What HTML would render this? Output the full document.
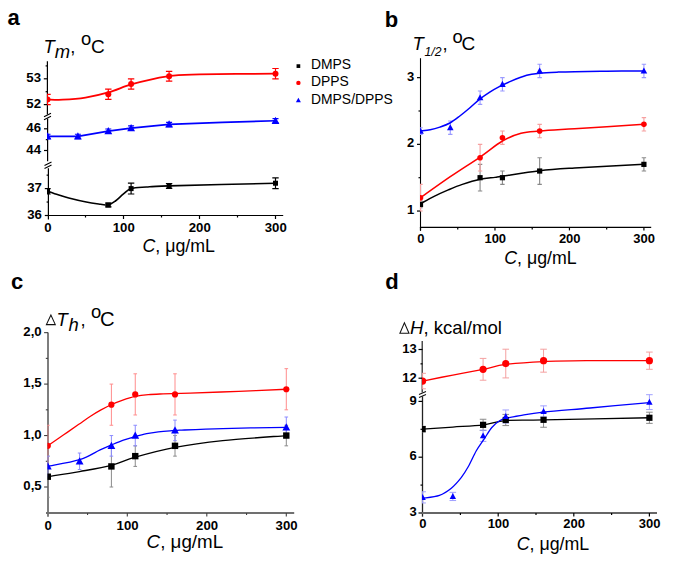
<!DOCTYPE html>
<html><head><meta charset="utf-8"><title>Figure</title>
<style>
html,body{margin:0;padding:0;background:#fff;}
body{width:685px;height:567px;overflow:hidden;}
svg{display:block;font-family:"Liberation Sans", sans-serif;}
</style></head>
<body>
<svg width="685" height="567" viewBox="0 0 685 567">
<rect width="685" height="567" fill="#fff"/>
<clipPath id="ca"><rect x="47" y="55" width="240" height="160"/></clipPath>
<line x1="47.4" y1="61.2" x2="47.4" y2="114.4" stroke="#000000" stroke-width="1.2"/>
<line x1="47.6" y1="118.6" x2="47.6" y2="161.3" stroke="#000000" stroke-width="1.2"/>
<line x1="48.4" y1="168.3" x2="48.4" y2="219.4" stroke="#000000" stroke-width="1.2"/>
<path d="M44 116.8 L51 113.3 M44 119.8 L51 116.3" stroke="#000" stroke-width="1.1"/>
<path d="M44.5 165.4 L51.5 161.9 M44.5 168.4 L51.5 164.9" stroke="#000" stroke-width="1.1"/>
<line x1="43.8" y1="104.6" x2="47.4" y2="104.6" stroke="#000000" stroke-width="1.2"/>
<line x1="43.8" y1="78.8" x2="47.4" y2="78.8" stroke="#000000" stroke-width="1.2"/>
<line x1="45.6" y1="91.7" x2="47.4" y2="91.7" stroke="#000000" stroke-width="1.2"/>
<line x1="45.6" y1="65.9" x2="47.4" y2="65.9" stroke="#000000" stroke-width="1.2"/>
<line x1="44" y1="150.5" x2="47.6" y2="150.5" stroke="#000000" stroke-width="1.2"/>
<line x1="44" y1="128.8" x2="47.6" y2="128.8" stroke="#000000" stroke-width="1.2"/>
<line x1="45.8" y1="139.65" x2="47.6" y2="139.65" stroke="#000000" stroke-width="1.2"/>
<line x1="44.8" y1="215.5" x2="48.5" y2="215.5" stroke="#000000" stroke-width="1.2"/>
<line x1="44.8" y1="188.6" x2="48.5" y2="188.6" stroke="#000000" stroke-width="1.2"/>
<line x1="46.6" y1="202.05" x2="48.5" y2="202.05" stroke="#000000" stroke-width="1.2"/>
<line x1="46.6" y1="175.15" x2="48.5" y2="175.15" stroke="#000000" stroke-width="1.2"/>
<line x1="48" y1="215.5" x2="283.2" y2="215.5" stroke="#000000" stroke-width="1.2"/>
<line x1="123.5" y1="215.5" x2="123.5" y2="219" stroke="#000000" stroke-width="1.2"/>
<line x1="199.5" y1="215.5" x2="199.5" y2="219" stroke="#000000" stroke-width="1.2"/>
<line x1="275.5" y1="215.5" x2="275.5" y2="219" stroke="#000000" stroke-width="1.2"/>
<line x1="85.5" y1="215.5" x2="85.5" y2="217.5" stroke="#000000" stroke-width="1.2"/>
<line x1="161.5" y1="215.5" x2="161.5" y2="217.5" stroke="#000000" stroke-width="1.2"/>
<line x1="237.5" y1="215.5" x2="237.5" y2="217.5" stroke="#000000" stroke-width="1.2"/>
<text x="41" y="108" font-size="13.2" text-anchor="end" font-weight="bold" font-style="normal" fill="#000">52</text>
<text x="41" y="82.2" font-size="13.2" text-anchor="end" font-weight="bold" font-style="normal" fill="#000">53</text>
<text x="41" y="153.9" font-size="13.2" text-anchor="end" font-weight="bold" font-style="normal" fill="#000">44</text>
<text x="41" y="132.2" font-size="13.2" text-anchor="end" font-weight="bold" font-style="normal" fill="#000">46</text>
<text x="41.8" y="218.9" font-size="13.2" text-anchor="end" font-weight="bold" font-style="normal" fill="#000">36</text>
<text x="41.8" y="192" font-size="13.2" text-anchor="end" font-weight="bold" font-style="normal" fill="#000">37</text>
<text x="47.8" y="232.2" font-size="13.2" text-anchor="middle" font-weight="bold" font-style="normal" fill="#000">0</text>
<text x="123.8" y="232.2" font-size="13.2" text-anchor="middle" font-weight="bold" font-style="normal" fill="#000">100</text>
<text x="199.8" y="232.2" font-size="13.2" text-anchor="middle" font-weight="bold" font-style="normal" fill="#000">200</text>
<text x="275.8" y="232.2" font-size="13.2" text-anchor="middle" font-weight="bold" font-style="normal" fill="#000">300</text>
<text font-size="18.4"><tspan x="43.4" y="53.1" font-style="italic">T</tspan><tspan x="54.8" y="58.4" font-style="italic">m</tspan><tspan x="70.2" y="53.1">,</tspan><tspan x="81.0" y="44.7">o</tspan><tspan x="90.9" y="53.3" font-size="19">C</tspan></text>
<text x="142.5" y="252.2" font-size="17.8"><tspan font-style="italic">C</tspan>, &#956;g/mL</text>
<text x="7.5" y="24.6" font-size="22" text-anchor="start" font-weight="bold" font-style="normal" fill="#000">a</text>
<rect x="296.55" y="64.25" width="3.7" height="3.7" fill="#000000"/>
<circle cx="298.4" cy="82.9" r="2.2" fill="#ff0000"/>
<path d="M298.4 97.67 L300.9 102.3 L295.9 102.3 Z" fill="#0000ff"/>
<text x="311" y="69" font-size="13.9" text-anchor="start" font-weight="normal" font-style="normal" fill="#000">DMPS</text>
<text x="311" y="86.1" font-size="13.9" text-anchor="start" font-weight="normal" font-style="normal" fill="#000">DPPS</text>
<text x="311" y="103.5" font-size="13.9" text-anchor="start" font-weight="normal" font-style="normal" fill="#000">DMPS/DPPS</text>
<g clip-path="url(#ca)">
<path d="M47.5 99.44 C50.03 99.48 56.37 100 62.7 99.7 C69.03 99.4 77.9 98.84 85.5 97.63 C93.1 96.43 100.7 94.67 108.3 92.47 C115.9 90.28 123.5 86.75 131.1 84.48 C138.7 82.2 146.93 80.26 153.9 78.8 C160.87 77.34 165.3 76.44 172.9 75.7 C180.5 74.97 182.4 74.76 199.5 74.41 C216.6 74.07 262.83 73.77 275.5 73.64" fill="none" stroke="#ff0000" stroke-width="1.8"/>
<path d="M47.5 94.28 V104.6 M44.3 94.28 H50.7 M44.3 104.6 H50.7" stroke="#ff0000" stroke-width="1.2" fill="none"/>
<circle cx="47.5" cy="99.44" r="3" fill="#ff0000"/>
<path d="M108.3 89.12 V99.44 M105.1 89.12 H111.5 M105.1 99.44 H111.5" stroke="#ff0000" stroke-width="1.2" fill="none"/>
<circle cx="108.3" cy="94.28" r="3" fill="#ff0000"/>
<path d="M131.1 78.8 V89.12 M127.9 78.8 H134.3 M127.9 89.12 H134.3" stroke="#ff0000" stroke-width="1.2" fill="none"/>
<circle cx="131.1" cy="83.96" r="3" fill="#ff0000"/>
<path d="M169.1 71.32 V81.12 M165.9 71.32 H172.3 M165.9 81.12 H172.3" stroke="#ff0000" stroke-width="1.2" fill="none"/>
<circle cx="169.1" cy="76.22" r="3" fill="#ff0000"/>
<path d="M275.5 68.48 V78.8 M272.3 68.48 H278.7 M272.3 78.8 H278.7" stroke="#ff0000" stroke-width="1.2" fill="none"/>
<circle cx="275.5" cy="73.64" r="3" fill="#ff0000"/>
<polyline points="47.5,136.4 77.9,136.4 108.3,131.19 131.1,128.04 169.1,124.46 222.3,122.29 275.5,120.77" fill="none" stroke="#0000ff" stroke-width="1.7" stroke-linejoin="round"/>
<path d="M47.5 134.23 V138.57 M44.5 134.23 H50.5 M44.5 138.57 H50.5" stroke="#0000ff" stroke-width="1.2" fill="none"/>
<path d="M47.5 132.3 L51.4 139.52 L43.6 139.52 Z" fill="#0000ff"/>
<path d="M77.9 134.23 V138.57 M74.9 134.23 H80.9 M74.9 138.57 H80.9" stroke="#0000ff" stroke-width="1.2" fill="none"/>
<path d="M77.9 132.3 L81.8 139.52 L74 139.52 Z" fill="#0000ff"/>
<path d="M108.3 129.02 V133.36 M105.3 129.02 H111.3 M105.3 133.36 H111.3" stroke="#0000ff" stroke-width="1.2" fill="none"/>
<path d="M108.3 127.09 L112.2 134.31 L104.4 134.31 Z" fill="#0000ff"/>
<path d="M131.1 125.87 V130.21 M128.1 125.87 H134.1 M128.1 130.21 H134.1" stroke="#0000ff" stroke-width="1.2" fill="none"/>
<path d="M131.1 123.95 L135 131.16 L127.2 131.16 Z" fill="#0000ff"/>
<path d="M169.1 122.29 V126.63 M166.1 122.29 H172.1 M166.1 126.63 H172.1" stroke="#0000ff" stroke-width="1.2" fill="none"/>
<path d="M169.1 120.37 L173 127.58 L165.2 127.58 Z" fill="#0000ff"/>
<path d="M275.5 118.6 V122.94 M272.5 118.6 H278.5 M272.5 122.94 H278.5" stroke="#0000ff" stroke-width="1.2" fill="none"/>
<path d="M275.5 116.68 L279.4 123.89 L271.6 123.89 Z" fill="#0000ff"/>
<path d="M47.5 191.02 C49.27 191.65 54.59 193.62 58.14 194.79 C61.69 195.95 64.09 196.8 68.78 198.02 C73.47 199.23 80.94 201.02 86.26 202.05 C91.58 203.08 97.03 203.71 100.7 204.2 C104.37 204.7 105.89 205.5 108.3 205.01 C110.71 204.52 112.61 203.08 115.14 201.24 C117.67 199.4 120.84 196.09 123.5 193.98 C126.16 191.87 127.3 189.77 131.1 188.6 C134.9 187.43 139.97 187.43 146.3 186.99 C152.63 186.54 147.57 186.54 169.1 185.91 C190.63 185.28 257.77 183.67 275.5 183.22" fill="none" stroke="#000000" stroke-width="1.6"/>
<path d="M47.5 188.6 V193.98 M44.3 188.6 H50.7 M44.3 193.98 H50.7" stroke="#000000" stroke-width="1.2" fill="none"/>
<rect x="45" y="188.79" width="5" height="5" fill="#000000"/>
<path d="M108.3 203.13 V206.89 M105.1 203.13 H111.5 M105.1 206.89 H111.5" stroke="#000000" stroke-width="1.2" fill="none"/>
<rect x="105.8" y="202.51" width="5" height="5" fill="#000000"/>
<path d="M131.1 183.22 V193.98 M127.9 183.22 H134.3 M127.9 193.98 H134.3" stroke="#000000" stroke-width="1.2" fill="none"/>
<rect x="128.6" y="186.1" width="5" height="5" fill="#000000"/>
<path d="M169.1 183.49 V188.33 M165.9 183.49 H172.3 M165.9 188.33 H172.3" stroke="#000000" stroke-width="1.2" fill="none"/>
<rect x="166.6" y="183.41" width="5" height="5" fill="#000000"/>
<path d="M275.5 177.84 V188.6 M272.3 177.84 H278.7 M272.3 188.6 H278.7" stroke="#000000" stroke-width="1.2" fill="none"/>
<rect x="273" y="180.72" width="5" height="5" fill="#000000"/>
</g>
<clipPath id="cb"><rect x="420" y="55" width="240" height="172"/></clipPath>
<line x1="420.5" y1="58.2" x2="420.5" y2="230.8" stroke="#000000" stroke-width="1.1"/>
<line x1="419.9" y1="227.4" x2="651.2" y2="227.4" stroke="#000000" stroke-width="1.3"/>
<line x1="417" y1="211.05" x2="420.5" y2="211.05" stroke="#000000" stroke-width="1.2"/>
<line x1="417" y1="144.35" x2="420.5" y2="144.35" stroke="#000000" stroke-width="1.2"/>
<line x1="417" y1="77.65" x2="420.5" y2="77.65" stroke="#000000" stroke-width="1.2"/>
<line x1="418.5" y1="177.7" x2="420.5" y2="177.7" stroke="#000000" stroke-width="1.2"/>
<line x1="418.5" y1="111" x2="420.5" y2="111" stroke="#000000" stroke-width="1.2"/>
<line x1="420.5" y1="227.4" x2="420.5" y2="230.4" stroke="#000000" stroke-width="1.2"/>
<line x1="494.97" y1="227.4" x2="494.97" y2="230.4" stroke="#000000" stroke-width="1.2"/>
<line x1="569.44" y1="227.4" x2="569.44" y2="230.4" stroke="#000000" stroke-width="1.2"/>
<line x1="643.91" y1="227.4" x2="643.91" y2="230.4" stroke="#000000" stroke-width="1.2"/>
<line x1="457.74" y1="227.4" x2="457.74" y2="229.4" stroke="#000000" stroke-width="1.2"/>
<line x1="532.21" y1="227.4" x2="532.21" y2="229.4" stroke="#000000" stroke-width="1.2"/>
<line x1="606.67" y1="227.4" x2="606.67" y2="229.4" stroke="#000000" stroke-width="1.2"/>
<text x="414.2" y="214.05" font-size="13" text-anchor="end" font-weight="bold" font-style="normal" fill="#000">1</text>
<text x="414.2" y="147.35" font-size="13" text-anchor="end" font-weight="bold" font-style="normal" fill="#000">2</text>
<text x="414.2" y="80.65" font-size="13" text-anchor="end" font-weight="bold" font-style="normal" fill="#000">3</text>
<text x="420.8" y="242.8" font-size="13" text-anchor="middle" font-weight="bold" font-style="normal" fill="#000">0</text>
<text x="495.27" y="242.8" font-size="13" text-anchor="middle" font-weight="bold" font-style="normal" fill="#000">100</text>
<text x="569.74" y="242.8" font-size="13" text-anchor="middle" font-weight="bold" font-style="normal" fill="#000">200</text>
<text x="644.21" y="242.8" font-size="13" text-anchor="middle" font-weight="bold" font-style="normal" fill="#000">300</text>
<text font-size="18.4"><tspan x="412.4" y="50.3" font-style="italic">T</tspan><tspan x="424.6" y="55.6" font-style="italic" font-size="12.2">1/2</tspan><tspan x="442.6" y="50.3">,</tspan><tspan x="452.4" y="43.4">o</tspan><tspan x="461.4" y="50.4" font-size="19">C</tspan></text>
<text x="504.2" y="263.6" font-size="17.8"><tspan font-style="italic">C</tspan>, &#956;g/mL</text>
<text x="384.7" y="26.8" font-size="22" text-anchor="start" font-weight="bold" font-style="normal" fill="#000">b</text>
<g clip-path="url(#cb)">
<path d="M420.5 201.05 V207.72 M418.3 201.05 H422.7 M418.3 207.72 H422.7" stroke="#888888" stroke-width="1.1" fill="none"/>
<path d="M480.08 164.36 V191.04 M477.88 164.36 H482.28 M477.88 191.04 H482.28" stroke="#888888" stroke-width="1.1" fill="none"/>
<path d="M502.42 171.03 V184.37 M500.22 171.03 H504.62 M500.22 184.37 H504.62" stroke="#888888" stroke-width="1.1" fill="none"/>
<path d="M539.65 157.69 V184.37 M537.45 157.69 H541.85 M537.45 184.37 H541.85" stroke="#888888" stroke-width="1.1" fill="none"/>
<path d="M643.91 157.69 V171.03 M641.71 157.69 H646.11 M641.71 171.03 H646.11" stroke="#888888" stroke-width="1.1" fill="none"/>
<path d="M420.5 184.37 V211.05 M418.3 184.37 H422.7 M418.3 211.05 H422.7" stroke="#f6a0a0" stroke-width="1.1" fill="none"/>
<path d="M480.08 144.35 V171.03 M477.88 144.35 H482.28 M477.88 171.03 H482.28" stroke="#f6a0a0" stroke-width="1.1" fill="none"/>
<path d="M502.42 131.01 V144.35 M500.22 131.01 H504.62 M500.22 144.35 H504.62" stroke="#f6a0a0" stroke-width="1.1" fill="none"/>
<path d="M539.65 124.34 V137.68 M537.45 124.34 H541.85 M537.45 137.68 H541.85" stroke="#f6a0a0" stroke-width="1.1" fill="none"/>
<path d="M643.91 117.67 V131.01 M641.71 117.67 H646.11 M641.71 131.01 H646.11" stroke="#f6a0a0" stroke-width="1.1" fill="none"/>
<path d="M420.5 127.68 V134.34 M418.3 127.68 H422.7 M418.3 134.34 H422.7" stroke="#9a9aff" stroke-width="1.1" fill="none"/>
<path d="M450.29 121 V134.35 M448.09 121 H452.49 M448.09 134.35 H452.49" stroke="#9a9aff" stroke-width="1.1" fill="none"/>
<path d="M480.08 90.99 V104.33 M477.88 90.99 H482.28 M477.88 104.33 H482.28" stroke="#9a9aff" stroke-width="1.1" fill="none"/>
<path d="M502.42 77.65 V90.99 M500.22 77.65 H504.62 M500.22 90.99 H504.62" stroke="#9a9aff" stroke-width="1.1" fill="none"/>
<path d="M539.65 64.31 V77.65 M537.45 64.31 H541.85 M537.45 77.65 H541.85" stroke="#9a9aff" stroke-width="1.1" fill="none"/>
<path d="M643.91 64.31 V77.65 M641.71 64.31 H646.11 M641.71 77.65 H646.11" stroke="#9a9aff" stroke-width="1.1" fill="none"/>
<path d="M420.5 203.71 C422.77 202.49 429.5 198.68 434.13 196.38 C438.76 194.07 443.57 191.91 448.28 189.91 C452.98 187.91 457.05 186.14 462.35 184.37 C467.65 182.6 474.64 180.47 480.08 179.3 C485.51 178.13 491.25 177.88 494.97 177.37 C498.69 176.86 494.97 177.34 502.42 176.23 C509.86 175.12 527.61 172.06 539.65 170.7 C551.69 169.33 557.28 169.08 574.65 168.03 C592.03 166.97 632.37 164.97 643.91 164.36" fill="none" stroke="#000000" stroke-width="1.5"/>
<path d="M420.5 197.71 C425.46 194.21 440.36 183.48 450.29 176.7 C460.22 169.92 471.39 162.97 480.08 157.02 C488.76 151.08 495.59 144.96 502.42 141.02 C509.24 137.07 514.83 135.01 521.03 133.34 C527.24 131.68 530.72 131.79 539.65 131.01 C548.59 130.23 557.28 129.79 574.65 128.68 C592.03 127.56 632.37 125.06 643.91 124.34" fill="none" stroke="#ff0000" stroke-width="1.5"/>
<path d="M420.5 131.01 C422.11 130.81 426.95 130.45 430.18 129.81 C433.41 129.16 436.57 128.28 439.86 127.14 C443.15 126.01 446.59 124.86 449.92 123.01 C453.24 121.15 456.53 118.5 459.82 116 C463.11 113.5 466.37 110.78 469.65 108 C472.93 105.22 476.19 101.94 479.48 99.33 C482.77 96.72 486.08 94.44 489.38 92.32 C492.69 90.21 495.88 88.43 499.29 86.65 C502.7 84.88 505.3 83.54 509.86 81.65 C514.43 79.76 521.77 76.72 526.69 75.32 C531.62 73.91 534.17 73.78 539.43 73.25 C544.69 72.71 552.4 72.38 558.27 72.11 C564.14 71.85 566.59 71.8 574.65 71.65 C582.72 71.49 595.13 71.29 606.67 71.18 C618.22 71.07 637.7 71.01 643.91 70.98" fill="none" stroke="#0000ff" stroke-width="1.5"/>
<rect x="417.9" y="201.78" width="5.2" height="5.2" fill="#000000"/>
<rect x="477.48" y="175.1" width="5.2" height="5.2" fill="#000000"/>
<rect x="499.82" y="175.1" width="5.2" height="5.2" fill="#000000"/>
<rect x="537.05" y="168.43" width="5.2" height="5.2" fill="#000000"/>
<rect x="641.31" y="161.76" width="5.2" height="5.2" fill="#000000"/>
<circle cx="420.5" cy="197.71" r="2.8" fill="#ff0000"/>
<circle cx="480.08" cy="157.69" r="2.8" fill="#ff0000"/>
<circle cx="502.42" cy="137.68" r="2.8" fill="#ff0000"/>
<circle cx="539.65" cy="131.01" r="2.8" fill="#ff0000"/>
<circle cx="643.91" cy="124.34" r="2.8" fill="#ff0000"/>
<path d="M420.5 127.54 L423.8 133.65 L417.2 133.65 Z" fill="#0000ff"/>
<path d="M450.29 124.21 L453.59 130.31 L446.99 130.31 Z" fill="#0000ff"/>
<path d="M480.08 94.19 L483.38 100.3 L476.78 100.3 Z" fill="#0000ff"/>
<path d="M502.42 80.86 L505.72 86.96 L499.12 86.96 Z" fill="#0000ff"/>
<path d="M539.65 67.51 L542.95 73.62 L536.35 73.62 Z" fill="#0000ff"/>
<path d="M643.91 67.51 L647.21 73.62 L640.61 73.62 Z" fill="#0000ff"/>
</g>
<clipPath id="cc"><rect x="47.5" y="325" width="250" height="187"/></clipPath>
<line x1="48" y1="332.6" x2="48" y2="516.8" stroke="#707070" stroke-width="1.8"/>
<line x1="46" y1="512.9" x2="294.2" y2="512.9" stroke="#707070" stroke-width="2"/>
<line x1="44.1" y1="487" x2="48" y2="487" stroke="#404040" stroke-width="1.1"/>
<line x1="44.1" y1="435.55" x2="48" y2="435.55" stroke="#404040" stroke-width="1.1"/>
<line x1="44.1" y1="384.1" x2="48" y2="384.1" stroke="#404040" stroke-width="1.1"/>
<line x1="44.1" y1="332.65" x2="48" y2="332.65" stroke="#404040" stroke-width="1.1"/>
<line x1="45.8" y1="461.27" x2="48" y2="461.27" stroke="#404040" stroke-width="1.1"/>
<line x1="45.8" y1="409.82" x2="48" y2="409.82" stroke="#404040" stroke-width="1.1"/>
<line x1="45.8" y1="358.38" x2="48" y2="358.38" stroke="#404040" stroke-width="1.1"/>
<line x1="127.3" y1="512.9" x2="127.3" y2="516.4" stroke="#404040" stroke-width="1.1"/>
<line x1="206.8" y1="512.9" x2="206.8" y2="516.4" stroke="#404040" stroke-width="1.1"/>
<line x1="286.3" y1="512.9" x2="286.3" y2="516.4" stroke="#404040" stroke-width="1.1"/>
<line x1="87.55" y1="512.9" x2="87.55" y2="515.1" stroke="#404040" stroke-width="1.1"/>
<line x1="167.05" y1="512.9" x2="167.05" y2="515.1" stroke="#404040" stroke-width="1.1"/>
<line x1="246.55" y1="512.9" x2="246.55" y2="515.1" stroke="#404040" stroke-width="1.1"/>
<text x="41.7" y="490.1" font-size="13.2" text-anchor="end" font-weight="bold" font-style="normal" fill="#000">0,5</text>
<text x="41.7" y="438.65" font-size="13.2" text-anchor="end" font-weight="bold" font-style="normal" fill="#000">1,0</text>
<text x="41.7" y="387.2" font-size="13.2" text-anchor="end" font-weight="bold" font-style="normal" fill="#000">1,5</text>
<text x="41.7" y="335.75" font-size="13.2" text-anchor="end" font-weight="bold" font-style="normal" fill="#000">2,0</text>
<text x="48.1" y="529.8" font-size="13.2" text-anchor="middle" font-weight="bold" font-style="normal" fill="#000">0</text>
<text x="127.6" y="529.8" font-size="13.2" text-anchor="middle" font-weight="bold" font-style="normal" fill="#000">100</text>
<text x="207.1" y="529.8" font-size="13.2" text-anchor="middle" font-weight="bold" font-style="normal" fill="#000">200</text>
<text x="286.6" y="529.8" font-size="13.2" text-anchor="middle" font-weight="bold" font-style="normal" fill="#000">300</text>
<path d="M46.4 324.6 L55.3 324.6 L50.9 315.0 Z" fill="none" stroke="#111" stroke-width="1.05" stroke-linejoin="miter"/>
<text font-size="18.4"><tspan x="56.6" y="326.2" font-style="italic">T</tspan><tspan x="68.6" y="331.4" font-style="italic">h</tspan><tspan x="80.5" y="326.2">,</tspan><tspan x="91.0" y="318.3">o</tspan><tspan x="100.0" y="325.8" font-size="20.2">C</tspan></text>
<text x="146.6" y="548.3" font-size="18.8"><tspan font-style="italic">C</tspan>, &#956;g/mL</text>
<text x="11" y="288.6" font-size="22" text-anchor="start" font-weight="bold" font-style="normal" fill="#000">c</text>
<g clip-path="url(#cc)">
<path d="M47.8 456.13 V497.29 M46 456.13 H49.6 M46 497.29 H49.6" stroke="#8a8a8a" stroke-width="1" fill="none"/>
<path d="M111.4 445.84 V487 M109.6 445.84 H113.2 M109.6 487 H113.2" stroke="#8a8a8a" stroke-width="1" fill="none"/>
<path d="M135.25 445.84 V466.42 M133.45 445.84 H137.05 M133.45 466.42 H137.05" stroke="#8a8a8a" stroke-width="1" fill="none"/>
<path d="M175 435.55 V456.13 M173.2 435.55 H176.8 M173.2 456.13 H176.8" stroke="#8a8a8a" stroke-width="1" fill="none"/>
<path d="M286.3 425.26 V445.84 M284.5 425.26 H288.1 M284.5 445.84 H288.1" stroke="#8a8a8a" stroke-width="1" fill="none"/>
<path d="M47.8 425.26 V466.42 M46 425.26 H49.6 M46 466.42 H49.6" stroke="#ff8c8c" stroke-width="1" fill="none"/>
<path d="M111.4 384.1 V425.26 M109.6 384.1 H113.2 M109.6 425.26 H113.2" stroke="#ff8c8c" stroke-width="1" fill="none"/>
<path d="M135.25 373.81 V414.97 M133.45 373.81 H137.05 M133.45 414.97 H137.05" stroke="#ff8c8c" stroke-width="1" fill="none"/>
<path d="M175 373.81 V414.97 M173.2 373.81 H176.8 M173.2 414.97 H176.8" stroke="#ff8c8c" stroke-width="1" fill="none"/>
<path d="M286.3 368.67 V409.82 M284.5 368.67 H288.1 M284.5 409.82 H288.1" stroke="#ff8c8c" stroke-width="1" fill="none"/>
<path d="M47.8 456.13 V476.71 M46 456.13 H49.6 M46 476.71 H49.6" stroke="#8c8cff" stroke-width="1" fill="none"/>
<path d="M79.6 453.04 V469.51 M77.8 453.04 H81.4 M77.8 469.51 H81.4" stroke="#8c8cff" stroke-width="1" fill="none"/>
<path d="M111.4 435.55 V456.13 M109.6 435.55 H113.2 M109.6 456.13 H113.2" stroke="#8c8cff" stroke-width="1" fill="none"/>
<path d="M135.25 425.26 V445.84 M133.45 425.26 H137.05 M133.45 445.84 H137.05" stroke="#8c8cff" stroke-width="1" fill="none"/>
<path d="M175 420.12 V440.69 M173.2 420.12 H176.8 M173.2 440.69 H176.8" stroke="#8c8cff" stroke-width="1" fill="none"/>
<path d="M286.3 417.03 V437.61 M284.5 417.03 H288.1 M284.5 437.61 H288.1" stroke="#8c8cff" stroke-width="1" fill="none"/>
<path d="M47.8 476.71 C53.1 475.85 69 473.45 79.6 471.56 C90.2 469.68 102.12 467.79 111.4 465.39 C120.68 462.99 124.65 460.16 135.25 457.16 C145.85 454.16 160.43 450.13 175 447.38 C189.57 444.64 204.15 442.67 222.7 440.69 C241.25 438.72 275.7 436.41 286.3 435.55" fill="none" stroke="#000000" stroke-width="1.3"/>
<path d="M47.8 466.42 C53.1 465.31 70.88 462.48 79.6 459.73 C88.32 456.99 94.76 452.44 100.11 449.96 C105.46 447.47 107.84 446.46 111.72 444.81 C115.6 443.16 119.52 441.45 123.4 440.08 C127.29 438.71 131.13 437.64 135.01 436.58 C138.89 435.52 142.82 434.47 146.7 433.7 C150.58 432.93 154.42 432.43 158.31 431.95 C162.19 431.47 166.41 431.11 169.99 430.82 C173.57 430.53 170.99 430.58 179.77 430.2 C188.55 429.82 204.94 429.03 222.7 428.55 C240.45 428.07 275.7 427.52 286.3 427.32" fill="none" stroke="#0000ff" stroke-width="1.3"/>
<path d="M47.8 445.84 C50.45 444 58.53 438.41 63.7 434.83 C68.87 431.25 74.41 427.39 78.81 424.33 C83.2 421.28 86.4 418.91 90.09 416.51 C93.79 414.11 97.39 411.93 100.99 409.93 C104.58 407.92 108.11 406.07 111.64 404.47 C115.16 402.88 118.2 401.7 122.13 400.36 C126.07 399.02 130.88 397.41 135.25 396.45 C139.62 395.49 143.73 395.02 148.37 394.6 C153 394.17 156.13 394.12 163.07 393.88 C170.02 393.64 177.44 393.58 190.03 393.16 C202.61 392.73 222.55 391.95 238.6 391.3 C254.65 390.65 278.35 389.59 286.3 389.25" fill="none" stroke="#ff0000" stroke-width="1.3"/>
<rect x="44.6" y="473.51" width="6.4" height="6.4" fill="#000000"/>
<rect x="108.2" y="463.22" width="6.4" height="6.4" fill="#000000"/>
<rect x="132.05" y="452.93" width="6.4" height="6.4" fill="#000000"/>
<rect x="171.8" y="442.64" width="6.4" height="6.4" fill="#000000"/>
<rect x="283.1" y="432.35" width="6.4" height="6.4" fill="#000000"/>
<path d="M47.8 462.32 L51.7 469.54 L43.9 469.54 Z" fill="#0000ff"/>
<path d="M79.6 457.18 L83.5 464.39 L75.7 464.39 Z" fill="#0000ff"/>
<path d="M111.4 441.74 L115.3 448.96 L107.5 448.96 Z" fill="#0000ff"/>
<path d="M135.25 431.45 L139.15 438.67 L131.35 438.67 Z" fill="#0000ff"/>
<path d="M175 426.31 L178.9 433.52 L171.1 433.52 Z" fill="#0000ff"/>
<path d="M286.3 423.22 L290.2 430.44 L282.4 430.44 Z" fill="#0000ff"/>
<circle cx="47.8" cy="445.84" r="3.1" fill="#ff0000"/>
<circle cx="111.4" cy="404.68" r="3.1" fill="#ff0000"/>
<circle cx="135.25" cy="394.39" r="3.1" fill="#ff0000"/>
<circle cx="175" cy="394.39" r="3.1" fill="#ff0000"/>
<circle cx="286.3" cy="389.25" r="3.1" fill="#ff0000"/>
</g>
<clipPath id="cd"><rect x="422" y="335" width="240" height="177"/></clipPath>
<line x1="422.2" y1="341" x2="422.2" y2="392.5" stroke="#222" stroke-width="1.2"/>
<line x1="422.5" y1="396.3" x2="422.5" y2="516.7" stroke="#222" stroke-width="1.3"/>
<path d="M419 394.4 L426 391.5 M419 397.4 L426 394.6" stroke="#111" stroke-width="1.1"/>
<line x1="418.5" y1="378.2" x2="422.5" y2="378.2" stroke="#000000" stroke-width="1.2"/>
<line x1="418.5" y1="349.5" x2="422.5" y2="349.5" stroke="#000000" stroke-width="1.2"/>
<line x1="420.5" y1="363.85" x2="422.5" y2="363.85" stroke="#000000" stroke-width="1.2"/>
<line x1="418.5" y1="513" x2="422.5" y2="513" stroke="#000000" stroke-width="1.2"/>
<line x1="418.5" y1="457.2" x2="422.5" y2="457.2" stroke="#000000" stroke-width="1.2"/>
<line x1="418.5" y1="401.4" x2="422.5" y2="401.4" stroke="#000000" stroke-width="1.2"/>
<line x1="420.5" y1="485.1" x2="422.5" y2="485.1" stroke="#000000" stroke-width="1.2"/>
<line x1="420.5" y1="429.3" x2="422.5" y2="429.3" stroke="#000000" stroke-width="1.2"/>
<line x1="421.9" y1="513" x2="657" y2="513" stroke="#666" stroke-width="1.8"/>
<line x1="498.2" y1="513" x2="498.2" y2="516.6" stroke="#000000" stroke-width="1.2"/>
<line x1="573.8" y1="513" x2="573.8" y2="516.6" stroke="#000000" stroke-width="1.2"/>
<line x1="649.4" y1="513" x2="649.4" y2="516.6" stroke="#000000" stroke-width="1.2"/>
<line x1="460.4" y1="513" x2="460.4" y2="515" stroke="#000000" stroke-width="1.2"/>
<line x1="536" y1="513" x2="536" y2="515" stroke="#000000" stroke-width="1.2"/>
<line x1="611.6" y1="513" x2="611.6" y2="515" stroke="#000000" stroke-width="1.2"/>
<text x="416.8" y="381.6" font-size="13" text-anchor="end" font-weight="bold" font-style="normal" fill="#000">12</text>
<text x="416.8" y="352.9" font-size="13" text-anchor="end" font-weight="bold" font-style="normal" fill="#000">13</text>
<text x="416.8" y="516.2" font-size="13" text-anchor="end" font-weight="bold" font-style="normal" fill="#000">3</text>
<text x="416.8" y="460.4" font-size="13" text-anchor="end" font-weight="bold" font-style="normal" fill="#000">6</text>
<text x="416.8" y="404.6" font-size="13" text-anchor="end" font-weight="bold" font-style="normal" fill="#000">9</text>
<text x="422.9" y="528.4" font-size="13" text-anchor="middle" font-weight="bold" font-style="normal" fill="#000">0</text>
<text x="498.5" y="528.4" font-size="13" text-anchor="middle" font-weight="bold" font-style="normal" fill="#000">100</text>
<text x="574.1" y="528.4" font-size="13" text-anchor="middle" font-weight="bold" font-style="normal" fill="#000">200</text>
<text x="649.7" y="528.4" font-size="13" text-anchor="middle" font-weight="bold" font-style="normal" fill="#000">300</text>
<path d="M399.9 333.3 L409.0 333.3 L404.4 322.9 Z" fill="none" stroke="#111" stroke-width="1.05" stroke-linejoin="miter"/>
<text x="410.0" y="333.8" font-size="18.6"><tspan font-style="italic">H</tspan>, kcal/mol</text>
<text x="516.7" y="550.1" font-size="17.8"><tspan font-style="italic">C</tspan>, &#956;g/mL</text>
<text x="385.3" y="288.6" font-size="22" text-anchor="start" font-weight="bold" font-style="normal" fill="#000">d</text>
<g clip-path="url(#cd)">
<path d="M422.6 373.32 V388.82 M419.3 373.32 H425.9 M419.3 388.82 H425.9" stroke="#f4a0a0" stroke-width="1" fill="none"/>
<path d="M483.08 358.4 V380.21 M479.78 358.4 H486.38 M479.78 380.21 H486.38" stroke="#f4a0a0" stroke-width="1" fill="none"/>
<path d="M505.76 349.21 V377.91 M502.46 349.21 H509.06 M502.46 377.91 H509.06" stroke="#f4a0a0" stroke-width="1" fill="none"/>
<path d="M543.56 349.21 V372.17 M540.26 349.21 H546.86 M540.26 372.17 H546.86" stroke="#f4a0a0" stroke-width="1" fill="none"/>
<path d="M649.4 352.08 V369.3 M646.1 352.08 H652.7 M646.1 369.3 H652.7" stroke="#f4a0a0" stroke-width="1" fill="none"/>
<path d="M422.6 426.32 V431.9 M419.3 426.32 H425.9 M419.3 431.9 H425.9" stroke="#8a8a8a" stroke-width="1" fill="none"/>
<path d="M483.08 419.26 V430.42 M479.78 419.26 H486.38 M479.78 430.42 H486.38" stroke="#8a8a8a" stroke-width="1" fill="none"/>
<path d="M505.76 414.42 V425.58 M502.46 414.42 H509.06 M502.46 425.58 H509.06" stroke="#8a8a8a" stroke-width="1" fill="none"/>
<path d="M543.56 412.37 V427.25 M540.26 412.37 H546.86 M540.26 427.25 H546.86" stroke="#8a8a8a" stroke-width="1" fill="none"/>
<path d="M649.4 412.19 V423.35 M646.1 412.19 H652.7 M646.1 423.35 H652.7" stroke="#8a8a8a" stroke-width="1" fill="none"/>
<path d="M422.6 491.8 V502.96 M419.3 491.8 H425.9 M419.3 502.96 H425.9" stroke="#a0a0ff" stroke-width="1" fill="none"/>
<path d="M452.84 492.35 V500.54 M449.54 492.35 H456.14 M449.54 500.54 H456.14" stroke="#a0a0ff" stroke-width="1" fill="none"/>
<path d="M483.08 430.23 V441.39 M479.78 430.23 H486.38 M479.78 441.39 H486.38" stroke="#a0a0ff" stroke-width="1" fill="none"/>
<path d="M505.76 409.96 V422.98 M502.46 409.96 H509.06 M502.46 422.98 H509.06" stroke="#a0a0ff" stroke-width="1" fill="none"/>
<path d="M543.56 405.86 V417.02 M540.26 405.86 H546.86 M540.26 417.02 H546.86" stroke="#a0a0ff" stroke-width="1" fill="none"/>
<path d="M649.4 394.7 V409.58 M646.1 394.7 H652.7 M646.1 409.58 H652.7" stroke="#a0a0ff" stroke-width="1" fill="none"/>
<path d="M422.6 381.07 C427.64 380.07 442.76 377 452.84 375.04 C462.92 373.08 474.26 371.07 483.08 369.3 C491.9 367.53 495.68 365.72 505.76 364.42 C515.84 363.13 529.7 362.18 543.56 361.55 C557.42 360.93 571.28 360.84 588.92 360.69 C606.56 360.55 639.32 360.69 649.4 360.69" fill="none" stroke="#ff0000" stroke-width="1.3"/>
<path d="M422.6 429.11 C427.64 428.77 442.76 427.78 452.84 427.07 C462.92 426.35 474.26 425.92 483.08 424.84 C491.9 423.75 495.68 421.39 505.76 420.56 C515.84 419.72 519.62 420.28 543.56 419.81 C567.5 419.35 631.76 418.11 649.4 417.77" fill="none" stroke="#000000" stroke-width="1.3"/>
<path d="M422.5 498.4 C425.32 497.9 434.6 497.1 439.4 495.4 C444.2 493.7 447.67 491.17 451.3 488.2 C454.93 485.23 458.33 481.25 461.2 477.6 C464.07 473.95 465.98 470.77 468.5 466.3 C471.02 461.83 473.7 455.33 476.3 450.8 C478.9 446.27 481.52 442.98 484.1 439.1 C486.68 435.22 489.22 430.57 491.8 427.5 C494.38 424.43 497 422.28 499.6 420.7 C502.2 419.12 504 418.85 507.4 418 C510.8 417.15 514.03 416.57 520 415.6 C525.97 414.63 531.53 413.47 543.2 412.2 C554.87 410.93 572.3 409.6 590 408 C607.7 406.4 639.5 403.5 649.4 402.6" fill="none" stroke="#0000ff" stroke-width="1.3"/>
<circle cx="422.6" cy="381.07" r="3.6" fill="#ff0000"/>
<circle cx="483.08" cy="369.3" r="3.6" fill="#ff0000"/>
<circle cx="505.76" cy="363.56" r="3.6" fill="#ff0000"/>
<circle cx="543.56" cy="360.69" r="3.6" fill="#ff0000"/>
<circle cx="649.4" cy="360.69" r="3.6" fill="#ff0000"/>
<rect x="419.5" y="426.01" width="6.2" height="6.2" fill="#000000"/>
<rect x="479.98" y="421.74" width="6.2" height="6.2" fill="#000000"/>
<rect x="502.66" y="416.9" width="6.2" height="6.2" fill="#000000"/>
<rect x="540.46" y="416.71" width="6.2" height="6.2" fill="#000000"/>
<rect x="646.3" y="414.67" width="6.2" height="6.2" fill="#000000"/>
<path d="M422.6 494.02 L425.8 499.94 L419.4 499.94 Z" fill="#0000ff"/>
<path d="M452.84 493.09 L456.04 499.01 L449.64 499.01 Z" fill="#0000ff"/>
<path d="M483.08 432.45 L486.28 438.37 L479.88 438.37 Z" fill="#0000ff"/>
<path d="M505.76 413.11 L508.96 419.03 L502.56 419.03 Z" fill="#0000ff"/>
<path d="M543.56 408.08 L546.76 414 L540.36 414 Z" fill="#0000ff"/>
<path d="M649.4 398.78 L652.6 404.7 L646.2 404.7 Z" fill="#0000ff"/>
</g>
</svg>
</body></html>
